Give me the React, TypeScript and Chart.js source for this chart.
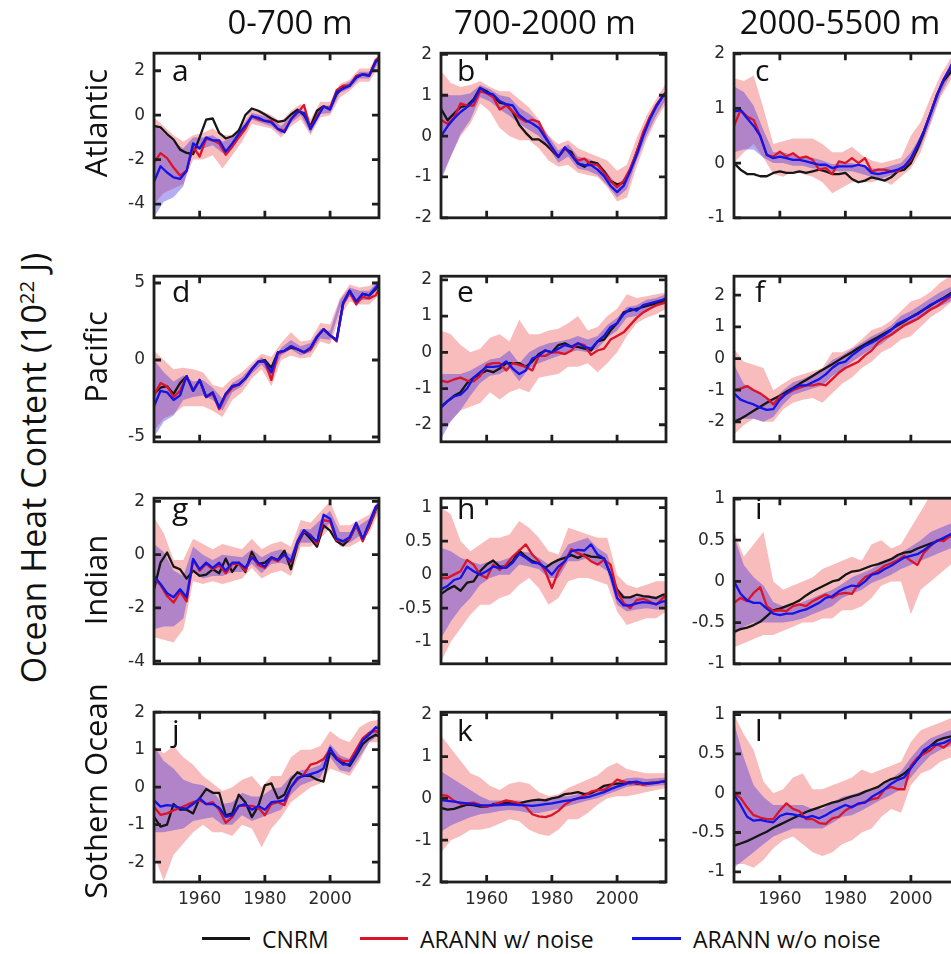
import React, { useEffect, useRef } from 'react';
import { Chart, registerables } from 'chart.js';
Chart.register(...registerables);

// ---------- shared axes ----------
const LINE_YEARS = [1946,1948,1950,1952,1954,1956,1958,1960,1962,1964,1966,1968,1970,1972,1974,1976,1978,1980,1982,1984,1986,1988,1990,1992,1994,1996,1998,2000,2002,2004,2006,2008,2010,2012,2014,2015];
const BAND_YEARS = [1946,1949,1952,1955,1958,1961,1964,1967,1970,1973,1976,1979,1982,1985,1988,1991,1994,1997,2000,2003,2006,2009,2012,2015];
const X_TICKS = [1960, 1980, 2000];

const COL_TITLES = ['0-700 m', '700-2000 m', '2000-5500 m'];
const ROW_TITLES = ['Atlantic', 'Pacific', 'Indian', 'Sothern Ocean'];
const LEGEND_LABELS = ['CNRM', 'ARANN w/ noise', 'ARANN w/o noise'];

// ---------- a: Atlantic 0-700 ----------
const A_YTICKS = [2, 0, -2, -4];
const A_CNRM = [-0.48,-0.55,-0.85,-1.1,-1.55,-1.7,-1.75,-1.0,-0.2,-0.15,-0.8,-1.05,-0.95,-0.7,0.0,0.3,0.2,0.03,-0.15,-0.3,-0.25,0.03,0.25,0.0,-0.5,0.2,0.4,0.3,0.95,1.26,1.33,1.7,1.84,1.8,2.42,2.52];
const A_WN = [-2.14,-1.71,-1.93,-2.36,-2.72,-2.5,-1.42,-1.86,-1.06,-1.13,-1.27,-1.78,-1.42,-0.99,-0.62,-0.04,-0.19,-0.26,-0.26,-0.62,-0.7,-0.19,0.1,0.46,-0.62,-0.04,0.39,0.32,1.12,1.33,1.33,1.77,1.84,1.77,2.49,2.6];
const A_WON = [-3.0,-2.3,-2.58,-2.8,-2.87,-2.5,-1.27,-1.5,-1.0,-1.13,-1.13,-1.64,-1.27,-0.84,-0.48,-0.05,-0.12,-0.26,-0.33,-0.62,-0.77,-0.19,0.17,0.1,-0.62,-0.12,0.39,0.25,1.04,1.19,1.33,1.7,1.84,1.77,2.42,2.52];
const A_WN_HI = [-0.1,-0.5,-0.9,-1.2,-0.9,-0.8,-0.6,-0.9,-0.9,-0.4,0.3,0.2,0.0,-0.3,0.2,0.5,-0.2,0.6,0.6,1.4,1.6,2.1,2.1,2.8];
const A_WN_LO = [-4.0,-3.5,-3.3,-3.1,-2.0,-2.0,-1.8,-2.4,-1.8,-1.2,-0.4,-0.5,-0.6,-1.0,-0.5,-0.2,-0.9,-0.1,0.0,0.8,1.1,1.5,1.5,2.2];
const A_WON_HI = [-0.4,-0.8,-1.2,-1.5,-1.0,-1.0,-0.9,-1.2,-1.0,-0.5,0.1,0.0,-0.15,-0.5,0.0,0.3,-0.4,0.4,0.45,1.3,1.5,1.95,1.95,2.65];
const A_WON_LO = [-4.6,-3.9,-3.7,-3.2,-1.6,-1.5,-1.35,-1.7,-1.5,-0.9,-0.2,-0.35,-0.5,-0.85,-0.35,0.0,-0.8,0.05,0.1,1.0,1.2,1.65,1.65,2.4];

// ---------- b: Atlantic 700-2000 ----------
const B_YTICKS = [2, 1, 0, -1, -2];
const B_CNRM = [0.67,0.39,0.55,0.71,0.75,0.9,1.18,1.1,0.98,0.82,0.78,0.59,0.27,0.08,-0.08,-0.08,-0.2,-0.35,-0.51,-0.31,-0.39,-0.67,-0.75,-0.63,-0.67,-0.86,-1.1,-1.18,-1.14,-0.86,-0.39,0.05,0.45,0.75,0.98,1.05];
const B_WN = [0.4,0.3,0.45,0.8,0.75,0.75,1.1,1.05,0.95,0.65,0.75,0.6,0.45,0.35,0.4,0.35,0.0,-0.3,-0.5,-0.3,-0.45,-0.6,-0.55,-0.7,-0.7,-0.9,-1.1,-1.25,-1.1,-0.8,-0.4,0.1,0.45,0.75,0.97,1.05];
const B_WON = [0.0,0.24,0.43,0.59,0.71,0.86,1.18,1.06,1.02,0.86,0.78,0.75,0.51,0.39,0.31,0.2,-0.04,-0.27,-0.51,-0.27,-0.47,-0.67,-0.71,-0.71,-0.82,-0.98,-1.22,-1.37,-1.22,-0.86,-0.47,0.0,0.4,0.72,0.98,1.07];
const B_WN_HI = [1.6,1.3,1.2,1.25,1.35,1.2,1.1,1.1,0.9,0.7,0.4,0.0,-0.2,-0.1,-0.3,-0.4,-0.5,-0.6,-0.85,-0.7,-0.05,0.5,0.9,1.3];
const B_WN_LO = [-1.0,-0.5,0.0,0.3,0.8,0.6,0.2,0.0,-0.1,-0.1,-0.3,-0.6,-0.75,-0.7,-0.9,-0.95,-1.0,-1.25,-1.6,-1.5,-0.75,-0.1,0.4,0.8];
const B_WON_HI = [1.05,1.0,1.0,1.05,1.25,1.15,1.0,0.95,0.7,0.55,0.35,0.0,-0.35,-0.2,-0.5,-0.55,-0.65,-0.9,-1.2,-0.95,-0.3,0.3,0.75,1.15];
const B_WON_LO = [-1.1,-0.5,0.05,0.4,0.95,0.85,0.65,0.5,0.3,0.15,0.0,-0.3,-0.65,-0.5,-0.8,-0.85,-0.95,-1.2,-1.5,-1.3,-0.6,0.0,0.5,0.9];

// ---------- c: Atlantic 2000-5500 ----------
const C_YTICKS = [2, 1, 0, -1];
const C_CNRM = [0.0,-0.12,-0.2,-0.2,-0.24,-0.24,-0.18,-0.15,-0.18,-0.18,-0.15,-0.18,-0.15,-0.12,-0.15,-0.2,-0.2,-0.18,-0.29,-0.35,-0.32,-0.26,-0.29,-0.32,-0.26,-0.15,-0.12,0.0,0.26,0.56,0.91,1.26,1.5,1.65,1.9,2.0];
const C_WN = [0.68,0.97,0.85,0.79,0.5,0.15,0.12,0.21,0.12,0.18,0.09,0.12,0.06,-0.12,-0.09,-0.2,0.03,0.0,0.09,0.0,0.09,-0.15,-0.12,-0.12,-0.15,-0.15,-0.06,0.06,0.32,0.59,0.91,1.24,1.53,1.74,2.0,2.1];
const C_WON = [0.94,0.97,0.82,0.68,0.5,0.15,0.09,0.12,0.09,0.06,0.06,0.03,0.0,-0.03,-0.03,-0.09,-0.06,-0.06,-0.06,-0.03,-0.06,-0.18,-0.2,-0.18,-0.15,-0.12,-0.06,0.09,0.32,0.59,0.91,1.24,1.53,1.74,2.0,2.1];
const C_WN_HI = [1.55,1.5,1.6,1.0,0.35,0.4,0.45,0.45,0.45,0.35,0.2,0.2,0.3,0.15,0.05,0.0,0.05,0.1,0.5,0.75,1.2,1.6,1.9,2.2];
const C_WN_LO = [0.0,0.2,0.35,0.1,-0.2,-0.25,-0.15,-0.2,-0.25,-0.35,-0.55,-0.45,-0.35,-0.35,-0.35,-0.3,-0.4,-0.25,-0.1,0.2,0.7,1.2,1.5,1.8];
const C_WON_HI = [1.4,1.3,1.05,0.6,0.2,0.2,0.15,0.1,0.1,0.05,-0.02,0.0,0.0,-0.05,-0.1,-0.1,-0.05,0.0,0.2,0.5,0.95,1.45,1.8,2.2];
const C_WON_LO = [0.2,0.25,0.25,0.1,0.0,0.0,-0.05,-0.05,-0.1,-0.1,-0.15,-0.15,-0.15,-0.2,-0.25,-0.28,-0.22,-0.15,0.0,0.3,0.75,1.25,1.6,2.0];

// ---------- d: Pacific 0-700 ----------
const D_YTICKS = [5, 0, -5];
const D_CNRM = [-2.2,-1.8,-1.7,-2.2,-1.5,-1.05,-2.0,-1.3,-2.4,-2.1,-3.1,-2.2,-1.7,-1.6,-1.2,-0.6,-0.1,0.0,-0.5,0.5,0.6,0.8,0.7,0.5,0.7,1.5,2.0,1.6,1.3,3.7,4.5,3.7,4.3,4.2,4.6,4.9];
const D_WN = [-2.3,-1.5,-1.7,-2.4,-2.0,-1.05,-2.0,-1.3,-2.4,-2.2,-3.2,-2.3,-1.8,-1.6,-1.2,-0.6,-0.1,-0.1,-1.3,0.4,0.6,0.9,0.7,0.5,0.7,1.5,2.0,1.6,1.2,3.6,4.4,3.6,4.1,4.0,4.2,4.6];
const D_WON = [-3.0,-2.0,-2.1,-2.6,-2.3,-1.05,-2.0,-1.3,-2.4,-2.1,-3.1,-2.2,-1.7,-1.6,-1.2,-0.6,-0.1,-0.1,-0.8,0.5,0.6,0.9,0.7,0.5,0.8,1.5,2.0,1.6,1.3,3.7,4.5,3.8,4.3,4.2,4.7,5.0];
const D_WN_HI = [0.6,0.0,-0.6,-0.5,-0.6,-0.8,-1.6,-1.8,-1.2,-0.8,-0.2,0.4,0.2,1.1,1.8,1.2,1.3,2.4,2.3,4.0,4.9,4.7,4.8,5.2];
const D_WN_LO = [-4.6,-3.8,-3.5,-3.0,-3.0,-3.0,-3.3,-3.7,-2.6,-2.1,-1.2,-0.6,-1.7,0.0,0.3,0.1,0.2,1.2,1.0,2.8,3.8,3.6,3.6,4.2];
const D_WON_HI = [0.0,-0.8,-1.4,-1.0,-1.4,-1.3,-1.8,-2.5,-1.5,-1.1,-0.4,0.2,-0.4,0.8,1.3,0.9,1.1,2.0,1.9,3.9,4.7,4.5,4.5,5.2];
const D_WON_LO = [-5.0,-4.0,-3.6,-2.6,-2.4,-2.3,-2.6,-3.3,-2.1,-1.7,-0.9,-0.3,-1.1,0.3,0.7,0.3,0.5,1.4,1.3,3.3,4.1,3.9,3.9,4.7];

// ---------- e: Pacific 700-2000 ----------
const E_YTICKS = [2, 1, 0, -1, -2];
const E_CNRM = [-1.5,-1.35,-1.2,-1.1,-0.85,-0.7,-0.6,-0.5,-0.55,-0.45,-0.3,-0.3,-0.3,-0.4,-0.25,-0.05,0.05,0.0,0.2,0.25,0.15,0.15,0.1,0.05,0.3,0.35,0.6,0.8,1.1,1.15,1.2,1.25,1.3,1.35,1.4,1.45];
const E_WN = [-0.78,-0.82,-0.75,-0.7,-0.78,-0.8,-0.65,-0.35,-0.3,-0.3,-0.5,-0.3,-0.35,-0.4,-0.5,-0.1,-0.1,0.0,0.0,-0.05,0.05,0.25,0.2,-0.07,0.05,0.1,0.35,0.45,0.55,0.75,0.95,1.1,1.2,1.3,1.35,1.4];
const E_WON = [-1.53,-1.35,-1.22,-1.17,-1.0,-0.7,-0.55,-0.4,-0.4,-0.38,-0.25,-0.45,-0.6,-0.5,-0.17,-0.1,0.05,0.0,0.1,0.2,0.15,0.25,0.15,0.1,0.3,0.45,0.7,0.8,1.05,1.2,1.15,1.3,1.35,1.4,1.45,1.5];
const E_WN_HI = [0.6,0.5,0.2,0.0,0.1,0.4,0.5,0.3,0.9,0.5,0.5,0.6,0.65,0.8,1.0,0.6,0.7,1.0,1.2,1.6,1.5,1.55,1.6,1.65];
const E_WN_LO = [-2.1,-1.9,-1.6,-1.5,-1.4,-1.1,-1.3,-1.1,-1.0,-1.1,-0.7,-0.65,-0.6,-0.4,-0.4,-0.3,-0.55,-0.3,0.0,0.45,0.8,0.95,1.05,1.2];
const E_WON_HI = [-0.6,-0.6,-0.6,-0.5,-0.35,-0.2,-0.15,0.05,-0.3,0.0,0.15,0.25,0.3,0.35,0.45,0.35,0.45,0.75,0.95,1.25,1.3,1.45,1.5,1.6];
const E_WON_LO = [-2.4,-1.9,-1.6,-1.2,-0.85,-0.65,-0.6,-0.45,-0.8,-0.45,-0.3,-0.2,-0.1,0.0,0.05,0.0,0.1,0.4,0.6,0.95,1.0,1.15,1.25,1.35];

// ---------- f: Pacific 2000-5500 ----------
const F_YTICKS = [2, 1, 0, -1, -2];
const F_CNRM = [-2.0,-1.9,-1.78,-1.65,-1.52,-1.4,-1.28,-1.18,-1.05,-0.93,-0.8,-0.68,-0.55,-0.42,-0.3,-0.18,-0.05,0.08,0.2,0.33,0.45,0.57,0.68,0.8,0.92,1.05,1.17,1.3,1.42,1.55,1.67,1.8,1.92,2.05,2.17,2.23];
const F_WN = [-1.0,-0.95,-0.87,-1.0,-1.1,-1.25,-1.45,-1.2,-1.12,-1.0,-0.92,-0.85,-0.85,-0.8,-0.85,-0.65,-0.45,-0.3,-0.2,-0.1,0.1,0.25,0.5,0.65,0.75,0.9,1.05,1.15,1.25,1.4,1.55,1.65,1.8,1.95,2.1,2.15];
const F_WON = [-1.1,-1.3,-1.38,-1.45,-1.55,-1.62,-1.6,-1.3,-1.1,-0.95,-0.85,-0.85,-0.75,-0.65,-0.5,-0.3,-0.15,-0.1,0.1,0.25,0.4,0.5,0.62,0.75,0.9,1.1,1.2,1.3,1.4,1.55,1.7,1.8,1.9,2.0,2.15,2.2];
const F_WN_HI = [0.3,-0.1,-0.2,-0.3,-1.0,-0.8,-0.6,-0.5,-0.4,-0.3,0.2,0.2,0.35,0.6,0.9,1.0,1.2,1.5,1.8,1.9,2.1,2.4,2.6,2.7];
const F_WN_LO = [-2.4,-2.1,-1.9,-2.0,-2.0,-1.6,-1.4,-1.3,-1.25,-1.4,-1.1,-0.8,-0.6,-0.3,-0.1,0.2,0.35,0.6,0.7,1.0,1.3,1.5,1.75,1.95];
const F_WON_HI = [-0.2,-0.8,-1.0,-1.2,-1.3,-1.0,-0.75,-0.65,-0.5,-0.35,-0.05,0.1,0.3,0.5,0.7,0.85,1.05,1.35,1.5,1.7,1.9,2.1,2.25,2.45];
const F_WON_LO = [-2.0,-1.9,-1.9,-2.0,-1.85,-1.45,-1.15,-1.05,-0.95,-0.85,-0.55,-0.35,-0.1,0.1,0.3,0.45,0.7,0.95,1.1,1.3,1.5,1.65,1.8,2.0];

// ---------- g: Indian 0-700 ----------
const G_YTICKS = [2, 0, -2, -4];
const G_CNRM = [-1.3,-0.3,0.08,-0.45,-0.55,-0.9,-0.6,-0.8,-0.75,-0.55,-0.7,-0.15,-0.65,-0.3,-0.65,0.1,-0.35,-0.3,-0.1,-0.2,0.15,-0.55,0.4,0.85,0.6,0.3,1.1,0.9,0.5,0.35,0.6,1.1,0.55,1.05,1.7,1.85];
const G_WN = [-0.85,-1.15,-1.55,-1.8,-1.4,-1.75,-0.2,-0.6,-0.35,-0.55,-0.4,-0.7,-0.35,-0.35,-0.6,-0.05,-0.4,-0.5,-0.15,-0.25,0.0,-0.3,0.45,0.9,0.75,0.4,1.3,1.25,0.55,0.5,0.6,1.15,0.5,1.1,1.75,1.9];
const G_WON = [-0.81,-1.1,-1.45,-1.6,-1.3,-1.6,-0.16,-0.55,-0.3,-0.5,-0.3,-0.6,-0.3,-0.3,-0.5,-0.1,-0.3,-0.45,-0.1,-0.2,0.0,-0.25,0.5,0.92,0.7,0.5,1.5,1.35,0.6,0.5,0.65,1.2,0.6,1.2,1.8,1.9];
const G_WN_HI = [1.4,0.8,-0.2,-0.2,0.6,0.4,0.2,0.4,0.3,0.2,0.6,0.2,0.4,0.5,0.3,1.3,1.2,1.6,2.0,1.1,1.1,1.3,1.5,2.1];
const G_WN_LO = [-3.1,-3.2,-3.3,-2.8,-1.0,-1.1,-1.0,-1.1,-1.0,-0.9,-0.5,-0.9,-0.7,-0.6,-0.8,0.3,0.3,0.6,1.0,0.3,0.3,0.5,0.8,1.6];
const G_WON_HI = [0.4,0.1,-0.6,-0.8,0.3,0.0,-0.2,0.0,-0.05,-0.1,0.2,-0.1,0.1,0.2,0.0,0.95,0.95,1.3,1.65,0.85,0.85,1.1,1.35,2.05];
const G_WON_LO = [-2.8,-2.7,-2.7,-2.4,-0.6,-0.9,-0.8,-0.8,-0.65,-0.65,-0.35,-0.7,-0.35,-0.3,-0.45,0.45,0.45,0.8,1.2,0.4,0.45,0.7,0.95,1.75];

// ---------- h: Indian 700-2000 ----------
const H_YTICKS = [1, 0.5, 0, -0.5, -1];
const H_CNRM = [-0.29,-0.22,-0.17,-0.24,-0.12,-0.1,0.05,0.15,0.21,0.12,0.12,0.2,0.36,0.27,0.2,0.17,0.1,0.17,0.22,0.25,0.29,0.25,0.3,0.27,0.26,0.24,0.0,-0.22,-0.34,-0.34,-0.3,-0.32,-0.33,-0.35,-0.3,-0.3];
const H_WN = [-0.05,-0.05,0.0,0.05,0.22,0.15,0.0,-0.05,0.15,0.07,0.15,0.27,0.36,0.45,0.3,0.2,0.05,-0.2,0.05,0.2,0.38,0.32,0.28,0.2,0.15,0.22,0.15,-0.25,-0.42,-0.5,-0.38,-0.36,-0.4,-0.45,-0.35,-0.3];
const H_WON = [-0.22,-0.17,-0.08,-0.05,0.12,0.05,0.0,0.05,0.12,0.1,0.1,0.18,0.31,0.25,0.18,0.17,0.1,0.0,0.12,0.2,0.35,0.37,0.36,0.45,0.3,0.24,0.0,-0.35,-0.46,-0.46,-0.43,-0.41,-0.42,-0.44,-0.4,-0.4];
const H_WN_HI = [1.0,0.9,0.5,0.35,0.45,0.55,0.55,0.6,0.8,0.7,0.55,0.35,0.3,0.7,0.65,0.6,0.55,0.55,0.0,-0.15,-0.2,-0.15,-0.1,-0.1];
const H_WN_LO = [-1.3,-1.0,-0.8,-0.6,-0.45,-0.45,-0.35,-0.3,-0.15,-0.05,-0.2,-0.45,-0.35,-0.1,-0.05,-0.05,-0.1,-0.15,-0.55,-0.75,-0.7,-0.65,-0.65,-0.55];
const H_WON_HI = [0.4,0.35,0.25,0.2,0.15,0.2,0.2,0.25,0.35,0.33,0.25,0.15,0.22,0.45,0.5,0.55,0.4,0.3,-0.2,-0.35,-0.33,-0.32,-0.33,-0.3];
const H_WON_LO = [-0.95,-0.7,-0.5,-0.35,-0.15,-0.05,0.0,0.0,0.15,0.12,0.08,-0.05,-0.05,0.2,0.2,0.25,0.15,0.05,-0.45,-0.55,-0.52,-0.5,-0.52,-0.5];

// ---------- i: Indian 2000-5500 ----------
const I_YTICKS = [1, 0.5, 0, -0.5, -1];
const I_CNRM = [-0.61,-0.58,-0.56,-0.53,-0.49,-0.42,-0.35,-0.33,-0.3,-0.27,-0.23,-0.17,-0.12,-0.08,-0.04,0.0,0.02,0.08,0.12,0.13,0.16,0.19,0.21,0.24,0.27,0.32,0.35,0.36,0.4,0.43,0.46,0.49,0.52,0.55,0.58,0.6];
const I_WN = [-0.26,-0.2,-0.24,-0.14,-0.07,-0.3,-0.36,-0.35,-0.36,-0.3,-0.28,-0.3,-0.24,-0.2,-0.16,-0.2,-0.15,-0.14,-0.15,-0.03,0.05,0.09,0.13,0.19,0.22,0.26,0.31,0.25,0.2,0.35,0.43,0.5,0.49,0.55,0.58,0.6];
const I_WON = [0.0,-0.15,-0.23,-0.26,-0.26,-0.33,-0.39,-0.41,-0.39,-0.39,-0.36,-0.34,-0.3,-0.26,-0.2,-0.18,-0.12,-0.08,-0.05,-0.06,0.0,0.08,0.1,0.15,0.19,0.24,0.29,0.31,0.33,0.38,0.44,0.49,0.53,0.57,0.6,0.62];
const I_WN_HI = [0.6,0.3,0.45,0.6,0.0,-0.1,-0.05,0.0,0.05,0.15,0.2,0.25,0.3,0.25,0.45,0.5,0.4,0.45,0.65,0.85,1.05,1.0,1.0,1.0];
const I_WN_LO = [-0.8,-0.75,-0.7,-0.65,-0.65,-0.6,-0.55,-0.5,-0.5,-0.45,-0.45,-0.35,-0.35,-0.3,-0.2,-0.05,0.0,0.0,-0.4,-0.1,0.0,0.1,0.2,0.25];
const I_WON_HI = [0.55,0.2,0.05,-0.05,-0.25,-0.3,-0.3,-0.25,-0.2,-0.15,-0.1,-0.03,0.05,0.1,0.15,0.22,0.28,0.35,0.42,0.5,0.6,0.65,0.7,0.72];
const I_WON_LO = [-0.65,-0.55,-0.5,-0.5,-0.5,-0.5,-0.48,-0.45,-0.4,-0.35,-0.3,-0.2,-0.15,-0.1,-0.02,0.03,0.08,0.15,0.2,0.25,0.3,0.35,0.4,0.45];

// ---------- j: Southern 0-700 ----------
const J_YTICKS = [2, 1, 0, -1, -2];
const J_CNRM = [-0.79,-1.05,-1.0,-0.45,-0.6,-0.6,-0.7,-0.3,-0.05,-0.15,-0.15,-0.75,-0.7,-0.2,-0.4,-0.8,-0.5,0.05,0.1,-0.3,-0.2,0.2,0.4,0.3,0.3,0.2,0.15,0.95,0.75,0.65,0.57,0.85,1.15,1.3,1.4,1.35];
const J_WN = [-0.52,-0.74,-0.7,-0.62,-0.55,-0.48,-0.4,-0.35,-0.45,-0.4,-0.6,-0.95,-0.8,-0.5,-0.5,-0.5,-0.55,-0.75,-0.45,-0.4,-0.48,0.0,0.2,0.35,0.6,0.65,0.75,1.0,0.8,0.7,0.7,1.0,1.3,1.45,1.5,1.45];
const J_WON = [-0.35,-0.52,-0.48,-0.5,-0.55,-0.57,-0.45,-0.3,-0.45,-0.45,-0.55,-0.79,-0.75,-0.5,-0.45,-0.6,-0.5,-0.6,-0.4,-0.38,-0.35,0.0,0.25,0.3,0.35,0.4,0.5,1.05,0.75,0.6,0.62,0.9,1.25,1.4,1.6,1.55];
const J_WN_HI = [1.1,0.9,1.1,0.8,0.6,0.3,0.1,-0.1,0.0,0.2,0.3,0.0,0.3,0.3,0.8,1.0,1.0,1.1,1.5,1.3,1.2,1.6,1.75,1.8];
const J_WN_LO = [-1.8,-2.5,-1.8,-1.5,-1.2,-1.0,-1.2,-1.2,-1.3,-1.0,-1.1,-1.6,-1.1,-0.8,-0.4,-0.2,0.0,0.1,0.5,0.4,0.3,0.7,1.2,1.2];
const J_WON_HI = [1.1,0.7,0.5,0.2,0.1,0.05,-0.1,-0.45,-0.4,-0.15,-0.25,-0.25,-0.05,0.0,0.3,0.45,0.5,0.6,1.15,0.85,0.75,1.15,1.5,1.7];
const J_WON_LO = [-1.2,-1.2,-1.15,-1.1,-0.9,-0.85,-0.8,-1.0,-1.0,-0.75,-0.9,-0.8,-0.7,-0.6,-0.2,0.05,0.15,0.25,0.8,0.45,0.4,0.8,1.2,1.4];

// ---------- k: Southern 700-2000 ----------
const K_YTICKS = [2, 1, 0, -1, -2];
const K_CNRM = [-0.23,-0.27,-0.25,-0.2,-0.15,-0.16,-0.2,-0.2,-0.14,-0.12,-0.1,-0.12,-0.12,-0.08,-0.05,-0.03,-0.05,0.0,0.03,0.1,0.12,0.15,0.1,0.12,0.2,0.3,0.33,0.35,0.36,0.39,0.35,0.35,0.37,0.38,0.4,0.4];
const K_WN = [0.08,0.06,-0.06,-0.13,-0.12,-0.1,-0.16,-0.2,-0.16,-0.1,-0.05,-0.08,-0.12,-0.2,-0.38,-0.43,-0.45,-0.4,-0.3,-0.15,-0.05,0.0,0.07,0.16,0.2,0.2,0.3,0.45,0.4,0.35,0.38,0.32,0.36,0.38,0.4,0.42];
const K_WON = [-0.04,-0.06,-0.08,-0.1,-0.12,-0.14,-0.16,-0.17,-0.17,-0.16,-0.15,-0.15,-0.16,-0.17,-0.18,-0.16,-0.14,-0.12,-0.09,-0.06,-0.04,0.0,0.02,0.05,0.1,0.15,0.22,0.28,0.33,0.38,0.4,0.36,0.35,0.37,0.4,0.42];
const K_WN_HI = [1.5,1.2,0.9,0.6,0.5,0.3,0.2,0.35,0.4,0.35,0.15,0.05,0.1,0.25,0.35,0.45,0.55,0.75,0.85,0.7,0.65,0.6,0.6,0.6];
const K_WN_LO = [-1.3,-1.0,-0.9,-0.75,-0.75,-0.7,-0.6,-0.5,-0.55,-0.75,-0.85,-0.9,-0.75,-0.5,-0.5,-0.35,-0.15,0.0,0.05,0.05,0.1,0.15,0.2,0.25];
const K_WON_HI = [0.65,0.5,0.35,0.2,0.05,-0.05,-0.05,-0.05,-0.05,-0.08,-0.05,0.0,0.05,0.05,0.1,0.15,0.22,0.3,0.4,0.48,0.5,0.46,0.48,0.5];
const K_WON_LO = [-0.8,-0.65,-0.55,-0.45,-0.38,-0.35,-0.3,-0.28,-0.3,-0.35,-0.35,-0.3,-0.25,-0.18,-0.12,-0.05,0.0,0.1,0.18,0.28,0.3,0.27,0.3,0.32];

// ---------- l: Southern 2000-5500 ----------
const L_YTICKS = [1, 0.5, 0, -0.5, -1];
const L_CNRM = [-0.67,-0.64,-0.61,-0.57,-0.53,-0.49,-0.44,-0.4,-0.36,-0.32,-0.28,-0.24,-0.21,-0.18,-0.15,-0.12,-0.1,-0.07,-0.04,-0.02,0.02,0.05,0.08,0.14,0.18,0.2,0.25,0.33,0.43,0.52,0.6,0.67,0.7,0.72,0.74,0.75];
const L_WN = [0.0,-0.06,-0.18,-0.28,-0.31,-0.33,-0.33,-0.22,-0.13,-0.2,-0.23,-0.33,-0.33,-0.38,-0.39,-0.32,-0.3,-0.22,-0.17,-0.14,-0.11,-0.08,-0.06,0.05,0.08,0.05,0.05,0.35,0.45,0.5,0.55,0.62,0.58,0.65,0.68,0.7];
const L_WON = [-0.02,-0.15,-0.3,-0.35,-0.34,-0.36,-0.37,-0.29,-0.26,-0.27,-0.29,-0.31,-0.29,-0.32,-0.28,-0.23,-0.19,-0.15,-0.18,-0.13,-0.12,-0.05,0.0,0.05,0.12,0.17,0.2,0.32,0.43,0.55,0.6,0.62,0.64,0.68,0.7,0.71];
const L_WN_HI = [1.0,0.75,0.55,0.15,0.0,0.05,0.2,0.25,0.05,0.05,0.1,0.15,0.2,0.3,0.25,0.3,0.35,0.4,0.65,0.8,0.85,0.9,0.95,0.95];
const L_WN_LO = [-0.9,-0.9,-0.95,-0.85,-0.7,-0.6,-0.55,-0.65,-0.75,-0.8,-0.75,-0.65,-0.6,-0.5,-0.45,-0.3,-0.2,-0.25,0.1,0.25,0.3,0.4,0.45,0.5];
const L_WON_HI = [0.9,0.45,0.1,-0.05,-0.15,-0.15,-0.15,-0.15,-0.2,-0.2,-0.12,-0.05,-0.02,0.02,0.05,0.12,0.18,0.28,0.45,0.6,0.7,0.75,0.8,0.82];
const L_WON_LO = [-0.95,-0.85,-0.75,-0.65,-0.55,-0.5,-0.45,-0.45,-0.45,-0.45,-0.38,-0.3,-0.28,-0.22,-0.15,-0.08,-0.02,0.05,0.2,0.35,0.48,0.55,0.6,0.62];

// ---------- styles ----------
const BLACK = '#161616';
const RED = '#dc1428';
const BLUE = '#1414e6';
const RED_BAND = 'rgba(240,80,80,0.38)';
const BLUE_BAND = 'rgba(60,40,220,0.38)';
const FRAME = '#1e1e1e';
const TICK_FONT = { family: 'DejaVu Sans', size: 17 };

const COLS = [ [154, 379], [441, 666], [734, 960] ];
const ROWS = [ [50, 221], [273, 445], [495, 667], [709, 882] ];
const LETTER_BASE = [82, 303, 520, 742];
const LETTER_DX = [18, 16, 21];

type Panel = {
  letter: string; col: number; row: number; yMin: number; yMax: number; yTicks: number[];
  cnrm: number[]; wn: number[]; won: number[]; wnHi: number[]; wnLo: number[]; wonHi: number[]; wonLo: number[];
};

const PANELS: Panel[] = [
  { letter: 'a', col: 0, row: 0, yMin: -4.62, yMax: 2.79, yTicks: A_YTICKS, cnrm: A_CNRM, wn: A_WN, won: A_WON, wnHi: A_WN_HI, wnLo: A_WN_LO, wonHi: A_WON_HI, wonLo: A_WON_LO },
  { letter: 'b', col: 1, row: 0, yMin: -2, yMax: 2.03, yTicks: B_YTICKS, cnrm: B_CNRM, wn: B_WN, won: B_WON, wnHi: B_WN_HI, wnLo: B_WN_LO, wonHi: B_WON_HI, wonLo: B_WON_LO },
  { letter: 'c', col: 2, row: 0, yMin: -1, yMax: 2.01, yTicks: C_YTICKS, cnrm: C_CNRM, wn: C_WN, won: C_WON, wnHi: C_WN_HI, wnLo: C_WN_LO, wonHi: C_WON_HI, wonLo: C_WON_LO },
  { letter: 'd', col: 0, row: 1, yMin: -5.31, yMax: 5.44, yTicks: D_YTICKS, cnrm: D_CNRM, wn: D_WN, won: D_WON, wnHi: D_WN_HI, wnLo: D_WN_LO, wonHi: D_WON_HI, wonLo: D_WON_LO },
  { letter: 'e', col: 1, row: 1, yMin: -2.47, yMax: 2.1, yTicks: E_YTICKS, cnrm: E_CNRM, wn: E_WN, won: E_WON, wnHi: E_WN_HI, wnLo: E_WN_LO, wonHi: E_WON_HI, wonLo: E_WON_LO },
  { letter: 'f', col: 2, row: 1, yMin: -2.63, yMax: 2.6, yTicks: F_YTICKS, cnrm: F_CNRM, wn: F_WN, won: F_WON, wnHi: F_WN_HI, wnLo: F_WN_LO, wonHi: F_WON_HI, wonLo: F_WON_LO },
  { letter: 'g', col: 0, row: 2, yMin: -4.1, yMax: 2.12, yTicks: G_YTICKS, cnrm: G_CNRM, wn: G_WN, won: G_WON, wnHi: G_WN_HI, wnLo: G_WN_LO, wonHi: G_WON_HI, wonLo: G_WON_LO },
  { letter: 'h', col: 1, row: 2, yMin: -1.33, yMax: 1.14, yTicks: H_YTICKS, cnrm: H_CNRM, wn: H_WN, won: H_WON, wnHi: H_WN_HI, wnLo: H_WN_LO, wonHi: H_WON_HI, wonLo: H_WON_LO },
  { letter: 'i', col: 2, row: 2, yMin: -1.0, yMax: 1.01, yTicks: I_YTICKS, cnrm: I_CNRM, wn: I_WN, won: I_WON, wnHi: I_WN_HI, wnLo: I_WN_LO, wonHi: I_WON_HI, wonLo: I_WON_LO },
  { letter: 'j', col: 0, row: 3, yMin: -2.53, yMax: 2.0, yTicks: J_YTICKS, cnrm: J_CNRM, wn: J_WN, won: J_WON, wnHi: J_WN_HI, wnLo: J_WN_LO, wonHi: J_WON_HI, wonLo: J_WON_LO },
  { letter: 'k', col: 1, row: 3, yMin: -2.0, yMax: 2.06, yTicks: K_YTICKS, cnrm: K_CNRM, wn: K_WN, won: K_WON, wnHi: K_WN_HI, wnLo: K_WN_LO, wonHi: K_WON_HI, wonLo: K_WON_LO },
  { letter: 'l', col: 2, row: 3, yMin: -1.13, yMax: 1.03, yTicks: L_YTICKS, cnrm: L_CNRM, wn: L_WN, won: L_WON, wnHi: L_WN_HI, wnLo: L_WN_LO, wonHi: L_WON_HI, wonLo: L_WON_LO },
];

const pts = (xs: number[], ys: number[]) => ys.map((y, i) => ({ x: xs[i], y }));

const framePlugin = {
  id: 'frame',
  afterDraw(chart: any) {
    const { ctx, chartArea } = chart;
    const { left, top, right, bottom } = chartArea;
    ctx.save();
    ctx.strokeStyle = FRAME;
    ctx.lineWidth = 2.8;
    ctx.strokeRect(left, top, right - left, bottom - top);
    const tl = 7;
    ctx.beginPath();
    const xs = chart.scales.x;
    const ys = chart.scales.y;
    for (const t of xs.ticks) {
      const px = xs.getPixelForValue(t.value);
      ctx.moveTo(px, top); ctx.lineTo(px, top + tl);
      ctx.moveTo(px, bottom); ctx.lineTo(px, bottom - tl);
    }
    for (const t of ys.ticks) {
      const py = ys.getPixelForValue(t.value);
      ctx.moveTo(left, py); ctx.lineTo(left + tl, py);
      ctx.moveTo(right, py); ctx.lineTo(right - tl, py);
    }
    ctx.stroke();
    ctx.restore();
  },
};

const PAD_L = 62, PAD_T = 16, PAD_R = 6;

function ChartPanel({ p }: { p: Panel }) {
  const ref = useRef<HTMLCanvasElement | null>(null);
  const [L, R] = COLS[p.col];
  const [T, B] = ROWS[p.row];
  const xLabels = p.row === 3;
  const padB = xLabels ? 34 : 16;
  const W = R - L + PAD_L + PAD_R;
  const H = B - T + PAD_T + padB;

  useEffect(() => {
    if (!ref.current) return;
    const band = (data: number[], color: string | null, fill: any, order: number) => ({
      data: pts(BAND_YEARS, data), borderWidth: 0, borderColor: 'rgba(0,0,0,0)', pointRadius: 0,
      backgroundColor: color || 'rgba(0,0,0,0)', fill, order, tension: 0,
    });
    const line = (data: number[], color: string, order: number, label: string) => ({
      label, data: pts(LINE_YEARS, data), borderColor: color, backgroundColor: color, borderWidth: 2.3,
      pointRadius: 0, fill: false, order, tension: 0, borderJoinStyle: 'round' as const,
    });
    const chart = new Chart(ref.current, {
      type: 'line',
      data: {
        datasets: [
          band(p.wnLo, null, false, 10),
          band(p.wnHi, RED_BAND, '-1', 10),
          band(p.wonLo, null, false, 9),
          band(p.wonHi, BLUE_BAND, '-1', 9),
          line(p.cnrm, BLACK, 3, LEGEND_LABELS[0]),
          line(p.wn, RED, 2, LEGEND_LABELS[1]),
          line(p.won, BLUE, 1, LEGEND_LABELS[2]),
        ] as any,
      },
      options: {
        animation: false,
        responsive: false,
        maintainAspectRatio: false,
        events: [],
        layout: { padding: { left: 0, top: PAD_T, right: PAD_R, bottom: xLabels ? 0 : padB } },
        plugins: { legend: { display: false }, tooltip: { enabled: false } },
        scales: {
          x: {
            type: 'linear', min: 1946, max: 2015,
            grid: { display: false, drawTicks: false }, border: { display: false },
            ticks: { display: xLabels, font: TICK_FONT, color: '#2a2a2a', padding: 7, maxRotation: 0, callback: (v: any) => String(v) },
            afterBuildTicks: (s: any) => { s.ticks = X_TICKS.map((v) => ({ value: v })); },
            afterFit: (s: any) => { s.height = xLabels ? padB : 0; },
          },
          y: {
            type: 'linear', min: p.yMin, max: p.yMax,
            grid: { display: false, drawTicks: false }, border: { display: false },
            ticks: { font: TICK_FONT, color: '#2a2a2a', padding: 9, callback: (v: any) => String(v) },
            afterBuildTicks: (s: any) => { s.ticks = p.yTicks.map((v) => ({ value: v })); },
            afterFit: (s: any) => { s.width = PAD_L; },
          },
        },
      } as any,
      plugins: [framePlugin],
    });
    return () => chart.destroy();
  }, []);

  return (
    <canvas ref={ref} width={W} height={H}
      style={{ position: 'absolute', left: L - PAD_L, top: T - PAD_T, width: W, height: H }} />
  );
}

const textBase: React.CSSProperties = {
  position: 'absolute', whiteSpace: 'nowrap', fontFamily: '"Open Sans", sans-serif', color: '#111', lineHeight: 1,
};

export default function App() {
  return (
    <div style={{ position: 'fixed', left: 0, top: 0, width: 951, height: 954, overflow: 'hidden', background: '#fff' }}>
      {PANELS.map((p) => <ChartPanel key={p.letter} p={p} />)}
      {PANELS.map((p) => (
        <div key={'L' + p.letter} style={{ ...textBase, fontSize: 30, left: COLS[p.col][0] + LETTER_DX[p.col], top: LETTER_BASE[p.row] - 27 }}>{p.letter}</div>
      ))}
      {COL_TITLES.map((t, i) => (
        <div key={t} style={{ ...textBase, fontSize: 33, left: [290, 545, 840][i], top: 21, transform: 'translate(-50%,-50%)' }}>{t}</div>
      ))}
      {ROW_TITLES.map((t, i) => (
        <div key={t} style={{ ...textBase, fontSize: 31, left: 95, top: [123, 357, 580, 791][i], transform: 'translate(-50%,-50%) rotate(-90deg)' }}>{t}</div>
      ))}
      <div style={{ ...textBase, fontSize: 34, left: 33, top: 468, transform: 'translate(-50%,-50%) rotate(-90deg)' }}>
        Ocean Heat Content (10<sup style={{ fontSize: '0.6em', verticalAlign: '0.6em' }}>22</sup> J)
      </div>
      {/* legend */}
      <div style={{ position: 'absolute', left: 202, top: 937, width: 48, height: 3, background: BLACK }} />
      <div style={{ ...textBase, fontSize: 23, left: 262, top: 928 }}>{LEGEND_LABELS[0]}</div>
      <div style={{ position: 'absolute', left: 360, top: 937, width: 48, height: 3, background: RED }} />
      <div style={{ ...textBase, fontSize: 23, left: 420, top: 928 }}>{LEGEND_LABELS[1]}</div>
      <div style={{ position: 'absolute', left: 632, top: 937, width: 49, height: 3, background: BLUE }} />
      <div style={{ ...textBase, fontSize: 23, left: 693, top: 928 }}>{LEGEND_LABELS[2]}</div>
    </div>
  );
}
